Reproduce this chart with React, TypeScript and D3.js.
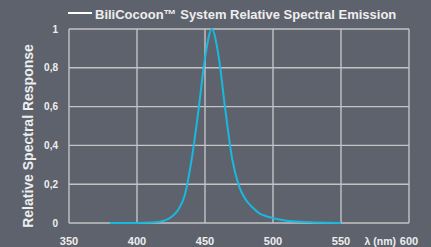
import { useEffect, useRef } from 'react';
import * as d3 from 'd3';

// emission curve (nm, relative value)
const wavelengths = [380, 390, 400, 410, 415, 420, 425, 430, 435, 440, 445, 450, 455, 460, 465, 470, 475, 480, 485, 490, 495, 500, 510, 520, 530, 540, 550];
const emission = [0, 0, 0, 0.002, 0.005, 0.012, 0.03, 0.065, 0.14, 0.32, 0.57, 0.85, 1.0, 0.86, 0.58, 0.33, 0.19, 0.12, 0.08, 0.05, 0.035, 0.025, 0.012, 0.006, 0.003, 0.001, 0];

const xTicks = [350, 400, 450, 500, 550, 600];
const yTicks = [0, 0.2, 0.4, 0.6, 0.8, 1];

const title = 'BiliCocoon™ System Relative Spectral Emission';
const yTitle = 'Relative Spectral Response';
const xUnit = 'λ (nm)';

const App = () => {
  const ref = useRef<SVGSVGElement>(null);

  useEffect(() => {
    const width = 431;
    const height = 247;
    const margin = { top: 29, right: 22, bottom: 24, left: 69 };
    const font = '"Liberation Sans", Arial, sans-serif';
    const textColor = '#eeeeee';

    const svg = d3.select(ref.current);
    svg.selectAll('*').remove();

    svg.append('rect').attr('width', width).attr('height', height).attr('fill', '#5e626d');

    const x = d3.scaleLinear().domain([350, 600]).range([margin.left, width - margin.right]);
    const y = d3.scaleLinear().domain([0, 1]).range([height - margin.bottom, margin.top]);

    // grid
    const grid = svg.append('g').attr('stroke', '#c4c4c6').attr('stroke-width', 1.4);
    grid.selectAll('line.v')
      .data(xTicks)
      .join('line')
      .attr('class', 'v')
      .attr('x1', (d) => x(d))
      .attr('x2', (d) => x(d))
      .attr('y1', y(0))
      .attr('y2', y(1));
    grid.selectAll('line.h')
      .data(yTicks)
      .join('line')
      .attr('class', 'h')
      .attr('x1', x(350))
      .attr('x2', x(600))
      .attr('y1', (d) => y(d))
      .attr('y2', (d) => y(d));

    // curve
    const pts = wavelengths.map((w, i) => [w, emission[i]] as [number, number]);
    const line = d3.line<[number, number]>()
      .x((d) => x(d[0]))
      .y((d) => y(d[1]))
      .curve(d3.curveMonotoneX);
    svg.append('path')
      .datum(pts)
      .attr('d', line)
      .attr('fill', 'none')
      .attr('stroke', '#19b9df')
      .attr('stroke-width', 2);

    // y tick labels
    svg.append('g')
      .selectAll('text')
      .data(yTicks)
      .join('text')
      .attr('x', 58)
      .attr('y', (d) => y(d) + 3.5)
      .attr('text-anchor', 'end')
      .attr('font-family', font)
      .attr('font-weight', 'bold')
      .attr('font-size', 10)
      .attr('fill', textColor)
      .text((d) => (d === 0 || d === 1 ? String(d) : d.toFixed(1).replace('.', ',')));

    // x tick labels
    svg.append('g')
      .selectAll('text')
      .data(xTicks)
      .join('text')
      .attr('x', (d) => x(d))
      .attr('y', 245)
      .attr('text-anchor', 'middle')
      .attr('font-family', font)
      .attr('font-weight', 'bold')
      .attr('font-size', 11)
      .attr('fill', textColor)
      .text((d) => d);

    svg.append('text')
      .attr('x', 396)
      .attr('y', 245)
      .attr('text-anchor', 'end')
      .attr('font-family', font)
      .attr('font-weight', 'bold')
      .attr('font-size', 10.5)
      .attr('fill', textColor)
      .text(xUnit);

    // y title
    svg.append('text')
      .attr('transform', `translate(32.5,${(y(0) + y(1)) / 2 + 10}) rotate(-90)`)
      .attr('text-anchor', 'middle')
      .attr('font-family', font)
      .attr('font-weight', 'bold')
      .attr('font-size', 14)
      .attr('fill', textColor)
      .text(yTitle);

    // legend + title
    svg.append('line')
      .attr('x1', 68)
      .attr('x2', 92)
      .attr('y1', 13)
      .attr('y2', 13)
      .attr('stroke', '#ffffff')
      .attr('stroke-width', 2);
    svg.append('text')
      .attr('x', 95)
      .attr('y', 19)
      .attr('font-family', font)
      .attr('font-weight', 'bold')
      .attr('font-size', 13)
      .attr('fill', textColor)
      .text(title);
  }, []);

  return (
    <div style={{ position: 'fixed', left: 0, top: 0 }}>
      <svg ref={ref} width={431} height={247} style={{ display: 'block' }} />
    </div>
  );
};

export default App;
